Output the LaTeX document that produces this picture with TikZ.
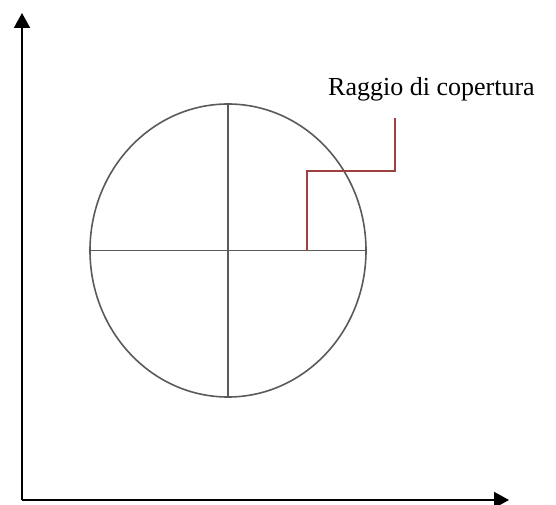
\documentclass[tikz,border=0pt]{standalone}
\usepackage{fontspec}
\setmainfont{Liberation Serif}
\usetikzlibrary{arrows.meta,shapes.geometric}
\definecolor{axisline}{HTML}{000000}
\definecolor{circleline}{HTML}{5A5A5A}
\definecolor{radiusline}{HTML}{A0403E}
\tikzset{
  axis/.style={-{Triangle[length=15pt,width=16pt]}, line width=2pt, draw=axisline},
  cell/.style={ellipse, draw=circleline, line width=1.6pt, inner sep=0pt,
    minimum width=276pt, minimum height=293pt},
  diameter/.style={line width=1.6pt, draw=circleline},
  radius/.style={line width=1.6pt, draw=radiusline},
  label/.style={font=\fontsize{26}{30}\selectfont, anchor=base west, inner sep=0pt},
}
\begin{document}
\begin{tikzpicture}[x=1pt,y=1pt]
\useasboundingbox (0,0) rectangle (556,504);

% ---- axes ------------------------------------------------------------------
\coordinate (orig) at (22,4);
\coordinate (ytip) at (22,491);
\coordinate (xtip) at (509,4);
\draw[axis] (orig) -- (ytip);
\draw[axis] (orig) -- (xtip);

% ---- coverage cell -----------------------------------------------------------
\node[cell] (cov) at (228,253.5) {};
\draw[diameter] (cov.west) -- (cov.east);
\draw[diameter] (cov.north) -- (cov.south);

% ---- radius label ------------------------------------------------------------
\node[label] (lbl) at (328,408) {Raggio di copertura};
\coordinate (rstart) at (307,0 |- cov.center);
\coordinate (rend) at (395,386);
\draw[radius] (rstart) |- (rend |- 0,333) -- (rend);

\end{tikzpicture}
\end{document}
